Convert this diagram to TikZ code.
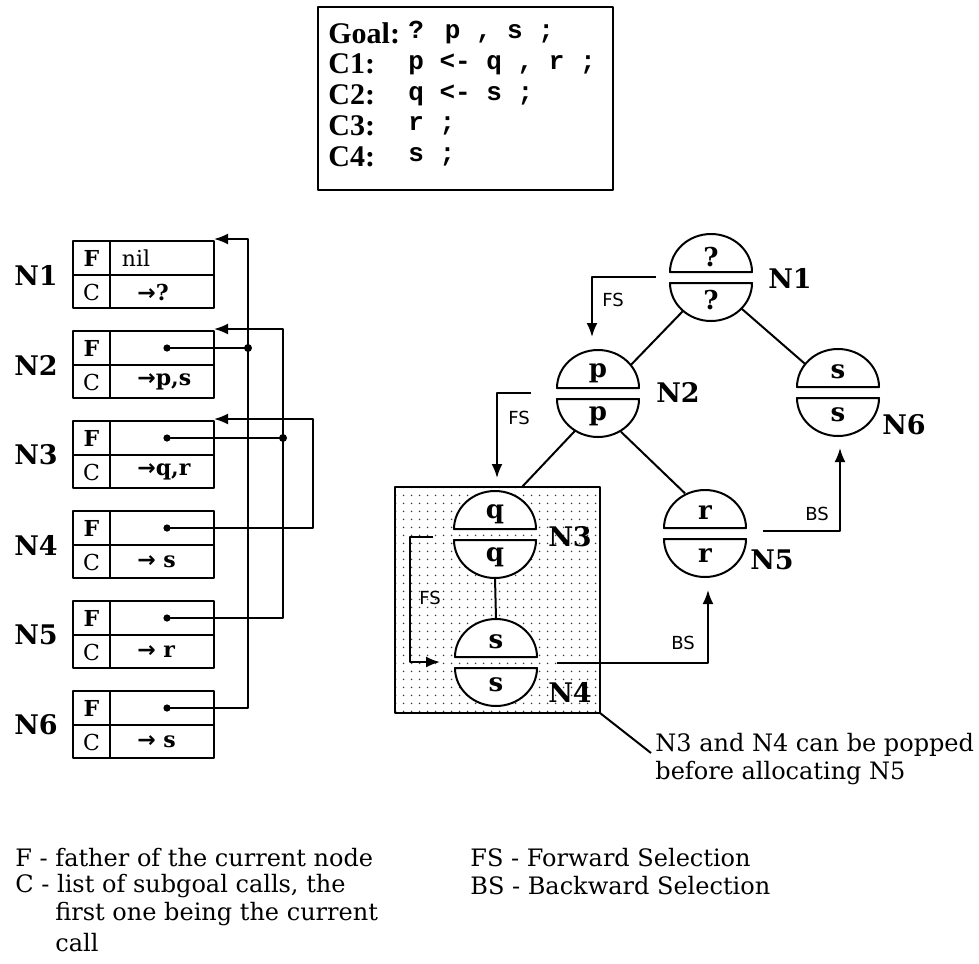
\documentclass[tikz,border=0pt]{standalone}
\usepackage{fontspec}
\setmainfont{DejaVu Serif}
\newfontfamily\codefont{Liberation Mono}
\newfontfamily\headfont{Liberation Serif}
\newfontfamily\tagfont{DejaVu Sans}
\usetikzlibrary{arrows.meta,patterns,calc}

\pgfdeclarepatternformonly{sparsedots}{\pgfpointorigin}{\pgfqpoint{4pt}{4pt}}{\pgfqpoint{4pt}{4pt}}%
  {\pgfpathcircle{\pgfqpoint{2pt}{2pt}}{0.5pt}\pgfusepath{fill}}

% one record of the node stack: name, top y, C field, label
\newcommand{\memrec}[4]{%
  \draw[box] (73,#2) rectangle (214,#2+67);
  \draw[box] (73,#2+34) -- (214,#2+34) (110,#2) -- (110,#2+67);
  \node[cell] (#1f) at (91.5,#2+17) {\textbf{F}};
  \node[cell] (#1c) at (91.5,#2+51) {C};
  \node[cell, anchor=west] (#1v) at (137,#2+51) {{\tagfont\bfseries →}\textbf{#3}};
  \node[reclab] (#1l) at (36,#2+34) {#4};
  \coordinate (#1d) at (167,#2+17);
  \coordinate (#1t) at (214,#2-2);
}
% one goal node of the tree: name, x, y of upper flat edge, letter
\newcommand{\goalnode}[4]{%
  \coordinate (#1t) at (#2,#3);
  \coordinate (#1b) at (#2,#3+11);
  \draw[half] (#2-41,#3) arc[start angle=180, end angle=0, x radius=20.5pt, y radius=19pt] -- cycle;
  \draw[half] (#2-41,#3+11) arc[start angle=180, end angle=360, x radius=20.5pt, y radius=19pt] -- cycle;
  \node[goal] (#1u) at (#2,#3-15) {#4};
  \node[goal] (#1w) at (#2,#3+28) {#4};
}

\begin{document}
\begin{tikzpicture}[x=0.5pt, y=-0.5pt, line join=round, >={Latex[length=7pt,width=5.5pt]},
  box/.style={line width=1pt},
  half/.style={line width=1pt, fill=white},
  edge/.style={line width=1pt},
  link/.style={line width=1pt},
  flow/.style={line width=1pt, ->},
  cell/.style={inner sep=0pt, font=\fontsize{11}{13}\selectfont},
  reclab/.style={inner sep=0pt, font=\fontsize{13.5}{16}\selectfont\bfseries},
  goal/.style={inner sep=0pt, font=\fontsize{13}{15}\selectfont\bfseries},
  head/.style={inner sep=0pt, anchor=west, font=\headfont\fontsize{15}{17}\selectfont\bfseries},
  code/.style={inner sep=0pt, anchor=west, font=\codefont\fontsize{13}{15}\selectfont\bfseries},
  tag/.style={inner sep=0pt, font=\tagfont\fontsize{9}{11}\selectfont},
  legend/.style={inner sep=0pt, anchor=west, font=\fontsize{12}{14}\selectfont}]
\useasboundingbox (0,0) rectangle (979,963);

% program
\draw[box] (318,7) rectangle (613,190);
\node[head] (g0a) at (328,33) {Goal:};
\node[code] (g0b) at (408,33) {? p , s ;};
\node[head] (c1a) at (328,64) {C1:};
\node[code] (c1b) at (408,64) {p <- q , r ;};
\node[head] (c2a) at (328,95) {C2:};
\node[code] (c2b) at (408,95) {q <- s ;};
\node[head] (c3a) at (328,126) {C3:};
\node[code] (c3b) at (408,126) {r ;};
\node[head] (c4a) at (328,157) {C4:};
\node[code] (c4b) at (408,157) {s ;};

% stack of records
\memrec{m1}{241}{?}{N1}
\memrec{m2}{331}{p,s}{N2}
\memrec{m3}{421}{q,r}{N3}
\memrec{m4}{511}{ s}{N4}
\memrec{m5}{601}{ r}{N5}
\memrec{m6}{691}{ s}{N6}
\node[cell] (m1n) at (136,258) {nil};

\coordinate (bus1) at (248,239);
\coordinate (bus2) at (283,329);
\coordinate (bus3) at (313,419);
\draw[link,->] (m6d) -| (bus1) -- (m1t);
\draw[link,->] (m5d) -| (bus2) -- (m2t);
\draw[link,->] (m4d) -| (bus3) -- (m3t);
\draw[link] (m2d) -- (m2d -| bus1);
\draw[link] (m3d) -- (m3d -| bus2);
\foreach \p in {m2d,m3d,m4d,m5d,m6d} \fill (\p) circle (1.8pt);
\fill (m2d -| bus1) circle (2pt);
\fill (m3d -| bus2) circle (2pt);

% search tree
\coordinate (g1b) at (711,283);
\coordinate (g2t) at (598,388);
\coordinate (g2b) at (598,398);
\coordinate (g3t) at (495,529);
\draw[edge] ($(g2b)+(-125:20pt)$) -- ($(g3t)+(60:20pt)$);
\draw[box, pattern=sparsedots, pattern color=black!75, preaction={fill=white}] (395,487) rectangle (600,713);
\coordinate (boxse) at (600,713);

\goalnode{g1}{711}{272}{?}
\goalnode{g2}{598}{388}{p}
\goalnode{g6}{838}{387}{s}
\goalnode{g3}{495}{529}{q}
\goalnode{g4}{496}{657}{s}
\goalnode{g5}{705}{528}{r}
\node[reclab] (g1l) at (790,278) {N1};
\node[reclab] (g2l) at (678,392) {N2};
\node[reclab] (g6l) at (904,425) {N6};
\node[reclab] (g3l) at (570,537) {N3};
\node[reclab] (g4l) at (570,692) {N4};
\node[reclab] (g5l) at (772,560) {N5};

\draw[edge] ($(g1b)+(-135:20pt)$) -- ($(g2t)+(35:20pt)$);
\draw[edge] ($(g1b)+(-40:20pt)$) -- ($(g6t)+(145:20pt)$);
\draw[edge] ($(g2b)+(-55:20pt)$) -- ($(g5t)+(120:20pt)$);
\draw[edge] ($(g3b)+(0,-19pt)$) -- ($(g4t)+(0,19pt)$);

% selections
\coordinate (fs1a) at (656,277);
\coordinate (fs1b) at (592,337);
\coordinate (fs2a) at (531,393);
\coordinate (fs2b) at (497,478);
\coordinate (fs3a) at (433,537);
\coordinate (fs3c) at (410,662);
\coordinate (fs3b) at (440,662);
\coordinate (bs1a) at (557,663);
\coordinate (bs1b) at (708,590);
\coordinate (bs2a) at (763,531);
\coordinate (bs2b) at (840,448);
\draw[flow] (fs1a) -| (fs1b);
\draw[flow] (fs2a) -| (fs2b);
\draw[flow] (fs3a) -| (fs3c) -- (fs3b);
\draw[flow] (bs1a) -| (bs1b);
\draw[flow] (bs2a) -| (bs2b);
\node[tag] (fs1) at (613,300) {FS};
\node[tag] (fs2) at (519,418) {FS};
\node[tag] (fs3) at (430,598) {FS};
\node[tag] (bs1) at (683,643) {BS};
\node[tag] (bs2) at (817,514) {BS};

% note
\node[legend] (popa) at (655,745) {N3 and N4 can be popped};
\node[legend] (popb) at (655,773) {before allocating N5};
\coordinate (popend) at (651,753);
\draw[edge] (boxse) -- (popend);

% key
\node[legend] (keyf) at (15,858) {F - father of the current node};
\node[legend] (keyc) at (15,886) {C - list of subgoal calls, the};
\node[legend] (keyc2) at (55,914) {first one being the current};
\node[legend] (keyc3) at (55,943) {call};
\node[legend] (keyfs) at (470,858) {FS - Forward Selection};
\node[legend] (keybs) at (470,886) {BS - Backward Selection};
\end{tikzpicture}
\end{document}
